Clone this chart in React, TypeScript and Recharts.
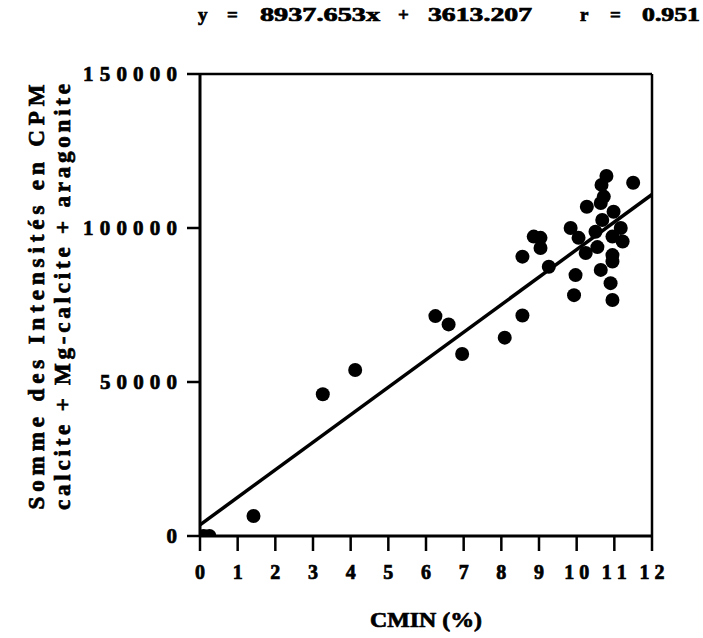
import React from "react";
import { ScatterChart, Scatter, XAxis, YAxis, ReferenceLine } from "recharts";

const cmin: number[] = [0.1, 0.25, 1.42, 3.26, 4.12, 6.25, 6.6, 6.96, 8.09, 8.56, 8.56, 8.86, 9.04, 9.04, 9.26, 9.84, 10.05, 9.97, 9.93, 10.24, 10.27, 10.5, 10.55, 10.64, 10.72, 10.66, 10.79, 10.68, 10.64, 10.98, 10.95, 10.95, 10.95, 10.9, 10.95, 11.17, 11.22, 11.5];
const intensity: number[] = [0, 0, 6500, 46000, 53900, 71400, 68700, 59100, 64400, 71600, 90700, 97200, 96800, 93500, 87400, 100000, 96800, 84700, 78200, 91900, 106900, 98800, 93800, 108100, 110200, 114000, 116900, 102600, 86400, 105300, 97200, 91200, 89100, 82100, 76600, 100000, 95600, 114700];
const xTicks: number[] = [0, 1, 2, 3, 4, 5, 6, 7, 8, 9, 10, 11, 12];
const yTicks: number[] = [0, 50000, 100000, 150000];
const slope = 8937.653;
const intercept = 3613.207;
const titleParts: string[] = ["y", "=", "8937.653x", "+", "3613.207", "r", "=", "0.951"];
const xLabel = "CMIN (%)";
const yLabel1 = "Somme des Intensités en CPM";
const yLabel2 = "calcite + Mg-calcite + aragonite";

const data = cmin.map((x, i) => ({ x, y: intensity[i] }));

const FONT = "'Liberation Serif', 'Times New Roman', serif";
const heavy = { fontFamily: FONT, fontWeight: "bold" as const, fill: "#000", stroke: "#000", strokeWidth: 0.7 };

// layout of title pieces: [left, width]
const titleBoxes: [number, number][] = [[198, 12], [227, 16], [260, 120], [398, 17], [428, 104], [580, 14], [610, 17], [642, 58]];

const XTick = (props: any) => {
  const { x, y, payload } = props;
  const s = String(payload.value);
  return (
    <text x={x} y={y + 26} textAnchor="middle" fontSize={20} {...heavy}
      {...(s.length > 1 ? { textLength: 25, lengthAdjust: "spacing" } : {})}>
      {s}
    </text>
  );
};

const YTick = (props: any) => {
  const { x, y, payload } = props;
  const s = String(payload.value);
  const n = s.length;
  const w = n * 9.5 + (n - 1) * 7.4;
  return (
    <text x={x} y={y + 7} textAnchor="end" fontSize={21} {...heavy}
      {...(n > 1 ? { textLength: w, lengthAdjust: "spacing" } : {})}>
      {s}
    </text>
  );
};

export default function App() {
  return (
    <div style={{ position: "absolute", left: 0, top: 0, width: 703, height: 638, background: "#fff" }}>
      <ScatterChart width={703} height={638} margin={{ top: 74, right: 51, bottom: 0, left: 140 }}>
        <XAxis type="number" dataKey="x" domain={[0, 12]} ticks={xTicks} interval={0} height={102}
          axisLine={{ stroke: "#000", strokeWidth: 3 }} tickLine={{ stroke: "#000", strokeWidth: 2.5 }}
          tickSize={15} tickMargin={2} tick={<XTick />} allowDataOverflow />
        <YAxis type="number" dataKey="y" domain={[0, 150000]} ticks={yTicks} interval={0} width={60}
          axisLine={{ stroke: "#000", strokeWidth: 3 }} tickLine={{ stroke: "#000", strokeWidth: 2.5 }}
          tickSize={13} tickMargin={10} tick={<YTick />} allowDataOverflow />
        <ReferenceLine y={150000} stroke="#000" strokeWidth={2.5} />
        <ReferenceLine x={12} stroke="#000" strokeWidth={2.5} />
        <ReferenceLine segment={[{ x: 0, y: intercept }, { x: 12, y: intercept + slope * 12 }]} stroke="#000" strokeWidth={3.5} />
        <Scatter data={data} fill="#000" isAnimationActive={false}
          shape={(p: any) => <circle cx={p.cx} cy={p.cy} r={7} fill="#000" />} />
      </ScatterChart>
      <svg width={703} height={638} style={{ position: "absolute", left: 0, top: 0, pointerEvents: "none" }}>
        {titleParts.map((t, i) => (
          <text key={i} x={titleBoxes[i][0]} y={21} fontSize={19} {...heavy}
            {...(t.length > 1 ? { textLength: titleBoxes[i][1], lengthAdjust: "spacingAndGlyphs" } : {})}>{t}</text>
        ))}
        <text x={426} y={627} textAnchor="middle" fontSize={22} {...heavy}
          textLength={112} lengthAdjust="spacingAndGlyphs" style={{ whiteSpace: "pre" }} xmlSpace="preserve">{xLabel}</text>
        <text x={0} y={0} transform="translate(44,297) rotate(-90)" textAnchor="middle" fontSize={23} {...heavy}
          textLength={425} lengthAdjust="spacing">{yLabel1}</text>
        <text x={0} y={0} transform="translate(70,297) rotate(-90)" textAnchor="middle" fontSize={23} {...heavy}
          textLength={426} lengthAdjust="spacing">{yLabel2}</text>
      </svg>
    </div>
  );
}
